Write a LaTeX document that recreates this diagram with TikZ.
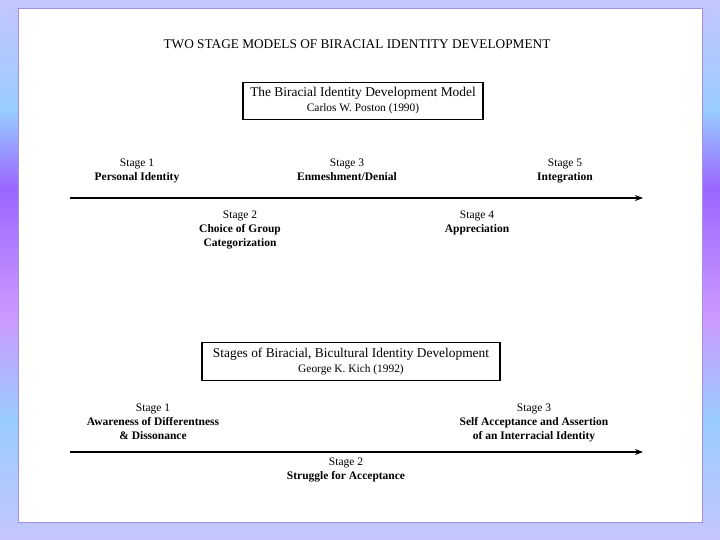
\documentclass[tikz,border=0pt]{standalone}
\usepackage{fontspec}
\setmainfont{Liberation Serif}
\usetikzlibrary{arrows.meta}
\definecolor{bglav}{HTML}{C4C6FC}
\definecolor{bgblue}{HTML}{99CCFF}
\definecolor{bgpurple}{HTML}{9966FF}
\definecolor{bglilac}{HTML}{CC99FF}
\definecolor{panelline}{HTML}{A78FE0}
\pgfdeclareverticalshading{slidebg}{100bp}{color(0bp)=(bglav); color(25bp)=(bglav); color(36.1bp)=(bgblue); color(45.8bp)=(bglilac); color(57.5bp)=(bgpurple); color(64.8bp)=(bgblue); color(75bp)=(bglav); color(100bp)=(bglav)}
\tikzset{
 stagelabel/.style={anchor=north,align=center,font=\fontsize{11.5}{14}\selectfont,inner sep=0pt},
 modelbox/.style={draw,line width=1.1pt,align=center,inner sep=0pt},
}
\begin{document}
\begin{tikzpicture}[x=1pt,y=-1pt]
 \useasboundingbox (0,0) rectangle (720,540);
 \shade[shading=slidebg] (0,0) rectangle (720,540); %背景
 \draw[panelline,fill=white] (18.5,8.5) rectangle (702,522); %台紙
 \node (title) at (357,44) {\fontsize{13.3}{15}\selectfont TWO STAGE MODELS OF BIRACIAL IDENTITY DEVELOPMENT}; %タイトル
 % Poston
 \node[modelbox,minimum width=240,minimum height=37] (poston) at (363,101) {\fontsize{13.4}{15}\selectfont The Biracial Identity Development Model\\[3pt] \fontsize{11.4}{15}\selectfont Carlos W. Poston (1990)};
 \coordinate (pstart) at (70,198);
 \coordinate (pend) at (643,198);
 \draw[-{Stealth[length=8pt,width=6pt]},line width=1.3pt] (pstart)--(pend); %時間軸
 \node[stagelabel] (p1) at (137,158.5) {Stage 1\\\textbf{Personal Identity}};
 \node[stagelabel] (p3) at (347,158.5) {Stage 3\\\textbf{Enmeshment/Denial}};
 \node[stagelabel] (p5) at (565,158.5) {Stage 5\\\textbf{Integration}};
 \node[stagelabel] (p2) at (240,210.5) {Stage 2\\\textbf{Choice of Group}\\\textbf{Categorization}};
 \node[stagelabel] (p4) at (477,210.5) {Stage 4\\\textbf{Appreciation}};
 % Kich
 \node[modelbox,minimum width=298,minimum height=38] (kich) at (351,361.5) {\fontsize{13.4}{15}\selectfont Stages of Biracial, Bicultural Identity Development\\[3pt] \fontsize{11.4}{15}\selectfont George K. Kich (1992)};
 \coordinate (kstart) at (70,452);
 \coordinate (kend) at (643,452);
 \draw[-{Stealth[length=8pt,width=6pt]},line width=1.3pt] (kstart)--(kend); %時間軸
 \node[stagelabel] (k1) at (153,403.5) {Stage 1\\\textbf{Awareness of Differentness}\\\textbf{\& Dissonance}};
 \node[stagelabel] (k3) at (534,403.5) {Stage 3\\\textbf{Self Acceptance and Assertion}\\\textbf{of an Interracial Identity}};
 \node[stagelabel] (k2) at (346,457.5) {Stage 2\\\textbf{Struggle for Acceptance}};
\end{tikzpicture}
\end{document}
